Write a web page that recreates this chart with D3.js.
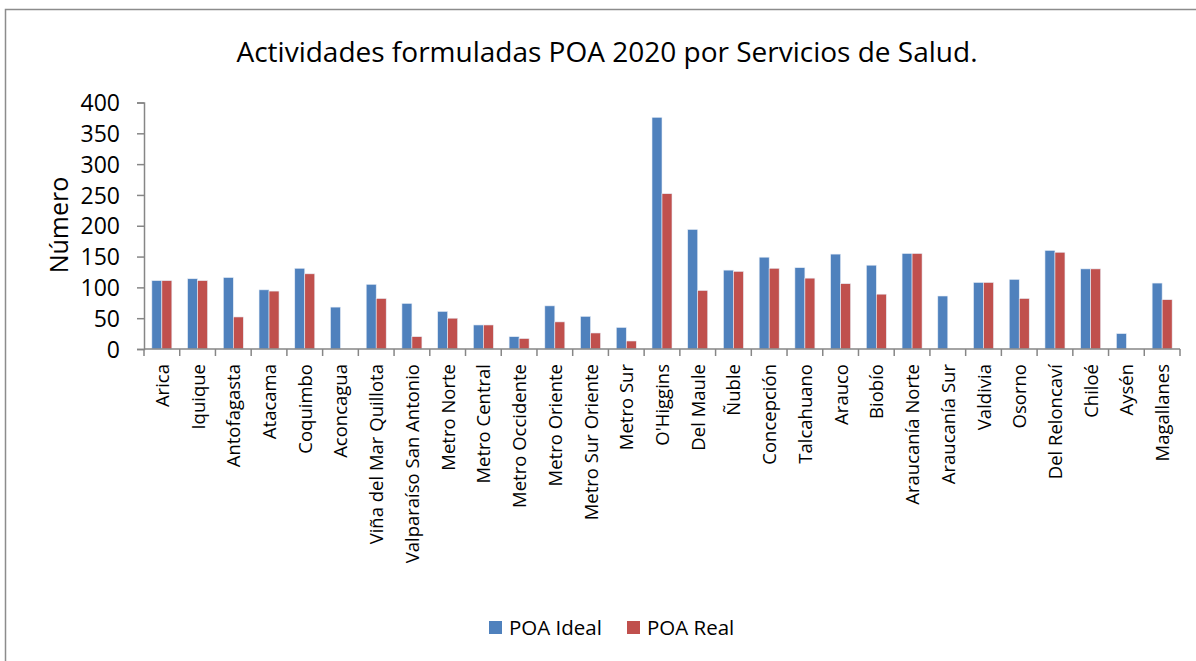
<!DOCTYPE html>
<html>
<head>
<meta charset="utf-8">
<script src="https://cdn.jsdelivr.net/npm/d3@7"></script>
<style>
  body { margin: 0; background: #fff; }
  svg text { font-family: "Open Sans", "Noto Sans", sans-serif; fill: #000; }
</style>
</head>
<body>
<svg id="chart" width="1196" height="661"></svg>
<script>
// Data
var categories = ["Arica", "Iquique", "Antofagasta", "Atacama", "Coquimbo", "Aconcagua",
  "Viña del Mar Quillota", "Valparaíso San Antonio", "Metro Norte", "Metro Central",
  "Metro Occidente", "Metro Oriente", "Metro Sur Oriente", "Metro Sur", "O'Higgins",
  "Del Maule", "Ñuble", "Concepción", "Talcahuano", "Arauco", "Biobío", "Araucanía Norte",
  "Araucanía Sur", "Valdivia", "Osorno", "Del Reloncaví", "Chiloé", "Aysén", "Magallanes"];
var poaIdeal = [111, 114, 116, 96, 131, 68, 105, 74, 61, 39, 20, 70, 53, 35, 376,
  194, 128, 149, 132, 154, 136, 155, 86, 108, 113, 160, 130, 25, 107];
var poaReal = [111, 111, 52, 94, 122, 0, 82, 20, 50, 39, 17, 44, 26, 13, 252,
  95, 126, 131, 115, 106, 89, 155, 0, 108, 82, 157, 130, 0, 80];
var seriesNames = ["POA Ideal", "POA Real"];
var yTicks = [0, 50, 100, 150, 200, 250, 300, 350, 400];

var blue = "#4f81bd";
var red = "#c0504d";
var axisGray = "#868686";

var svg = d3.select("#chart");

// Outer frame (only top and left visible)
svg.append("path")
   .attr("d", "M5.5,661 L5.5,9.5 L1196,9.5")
   .attr("fill", "none")
   .attr("stroke", "#8c8c8c")
   .attr("stroke-width", 1.5);

// Scales
var x0 = d3.scaleBand()
           .domain(categories)
           .range([144, 1180])
           .paddingInner(0.44)
           .paddingOuter(0.22);
var x1 = d3.scaleBand()
           .domain(seriesNames)
           .range([0, x0.bandwidth()]);
var y = d3.scaleLinear()
          .domain([0, 400])
          .range([349, 102.5]);

// Title
svg.append("text")
   .attr("x", 607)
   .attr("y", 62)
   .attr("text-anchor", "middle")
   .style("font-size", "28px")
   .text("Actividades formuladas POA 2020 por Servicios de Salud.");

// Bars
var rows = categories.map(function(c, i) {
  return { cat: c, vals: [poaIdeal[i], poaReal[i]] };
});
var groups = svg.selectAll(".grp")
                .data(rows)
                .enter()
                .append("g")
                .attr("class", "grp")
                .attr("transform", function(d) { return "translate(" + x0(d.cat) + ",0)"; });
groups.selectAll("rect")
      .data(function(d) { return d.vals.map(function(v, j) { return { name: seriesNames[j], v: v }; }); })
      .enter()
      .filter(function(d) { return d.v > 0; })
      .append("rect")
      .attr("x", function(d) { return x1(d.name); })
      .attr("y", function(d) { return y(d.v); })
      .attr("width", x1.bandwidth())
      .attr("height", function(d) { return y(0) - y(d.v); })
      .attr("fill", function(d) { return d.name == "POA Ideal" ? blue : red; })
      .attr("stroke", "#e8eef7")
      .attr("stroke-width", 0.6);

// Y axis
var yAxis = svg.append("g")
               .attr("transform", "translate(144,0)")
               .call(d3.axisLeft(y).tickValues(yTicks).tickSize(7).tickPadding(17));
yAxis.selectAll("text").style("font-size", "23px").attr("dy", "0.35em");
yAxis.selectAll("line, path").attr("stroke", axisGray).attr("stroke-width", 1.5);

// X axis: ticks at category boundaries
var xAxis = svg.append("g");
xAxis.append("line")
     .attr("x1", 144).attr("x2", 1180)
     .attr("y1", y(0)).attr("y2", y(0))
     .attr("stroke", axisGray).attr("stroke-width", 1.5);
var step = x0.step();
xAxis.selectAll(".xtick")
     .data(d3.range(categories.length + 1))
     .enter()
     .append("line")
     .attr("x1", function(i) { return 144 + i * step; })
     .attr("x2", function(i) { return 144 + i * step; })
     .attr("y1", y(0))
     .attr("y2", y(0) + 7)
     .attr("stroke", axisGray).attr("stroke-width", 1.5);
xAxis.selectAll(".xlab")
     .data(categories)
     .enter()
     .append("text")
     .attr("transform", function(d) {
       return "translate(" + (x0(d) + x0.bandwidth() / 2 + 7) + ",364) rotate(-90)";
     })
     .attr("text-anchor", "end")
     .style("font-size", "18.5px")
     .text(function(d) { return d; });

// Y axis title
svg.append("text")
   .attr("transform", "translate(68,225) rotate(-90)")
   .attr("text-anchor", "middle")
   .style("font-size", "25px")
   .text("Número");

// Legend
var legend = svg.append("g").attr("transform", "translate(489,621)");
var items = [{ name: seriesNames[0], color: blue, x: 0 }, { name: seriesNames[1], color: red, x: 138 }];
items.forEach(function(it) {
  legend.append("rect")
        .attr("x", it.x).attr("y", 0)
        .attr("width", 13).attr("height", 13)
        .attr("fill", it.color);
  legend.append("text")
        .attr("x", it.x + 20).attr("y", 14)
        .style("font-size", "20.5px")
        .text(it.name);
});
</script>
</body>
</html>
